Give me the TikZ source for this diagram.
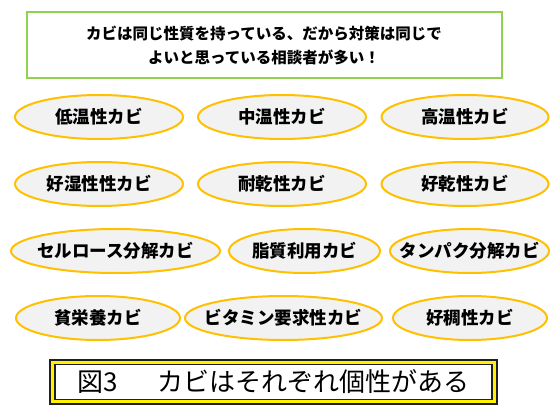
\documentclass[tikz,border=0pt]{standalone}
\usepackage{fontspec}
\newfontfamily\cjk{Noto Sans CJK JP}
\usetikzlibrary{shapes.geometric}
\definecolor{boxgreen}{HTML}{92D050}
\definecolor{ellorange}{HTML}{FFC000}
\definecolor{ellfill}{HTML}{F2F2F2}
\definecolor{frame}{HTML}{1F1F1F}
\newcommand{\kabitext}[1]{\makebox[0pt]{#1}}
\tikzset{
  kabi/.style={ellipse, draw=ellorange, line width=2pt, fill=ellfill, inner sep=0pt,
    minimum height=44pt, font=\cjk\bfseries\fontsize{17.5}{19}\selectfont, text=black},
}
\begin{document}
\begin{tikzpicture}[x=1pt,y=-1pt]
\useasboundingbox (0,0) rectangle (560,420);
\fill[white] (0,0) rectangle (560,420);
% top box
\node (top) [draw=boxgreen, line width=2pt, minimum width=475pt, minimum height=66pt, inner sep=0pt,
  align=center, font=\cjk\bfseries\fontsize{15.5}{24}\selectfont] at (264,45)
  {カビは同じ性質を持っている、だから対策は同じで\\よいと思っている相談者が多い！};
% row 1
\node (e1) [kabi, minimum width=168pt] at (99,117) {\kabitext{低温性カビ}};
\node (e2) [kabi, minimum width=168pt] at (282,117) {\kabitext{中温性カビ}};
\node (e3) [kabi, minimum width=167pt] at (465,117) {\kabitext{高温性カビ}};
% row 2
\node (e4) [kabi, minimum width=168pt] at (99,184) {\kabitext{好湿性性カビ}};
\node (e5) [kabi, minimum width=168pt] at (282,184) {\kabitext{耐乾性カビ}};
\node (e6) [kabi, minimum width=167pt] at (465,184) {\kabitext{好乾性カビ}};
% row 3
\node (e7) [kabi, minimum width=209pt] at (115.5,251) {\kabitext{セルロース分解カビ}};
\node (e8) [kabi, minimum width=151pt] at (304.5,251) {\kabitext{脂質利用カビ}};
\node (e9) [kabi, minimum width=159pt] at (469.5,251) {\kabitext{タンパク分解カビ}};
% row 4
\node (e10) [kabi, minimum width=164pt] at (98,318) {\kabitext{貧栄養カビ}};
\node (e11) [kabi, minimum width=197pt] at (283.5,318) {\kabitext{ビタミン要求性カビ}};
\node (e12) [kabi, minimum width=154pt] at (470,318) {\kabitext{好稠性カビ}};
% caption
\node (capo) [draw=frame, line width=1.2pt, fill=yellow, minimum width=447pt, minimum height=44pt, inner sep=0pt] at (273.5,382) {};
\node (cap) [draw=frame, line width=1.2pt, fill=white, minimum width=437pt, minimum height=35pt, inner sep=0pt,
  font=\cjk\fontsize{26}{28}\selectfont] at (capo.center) {図3\hspace{40pt}カビはそれぞれ個性がある};
\end{tikzpicture}
\end{document}
